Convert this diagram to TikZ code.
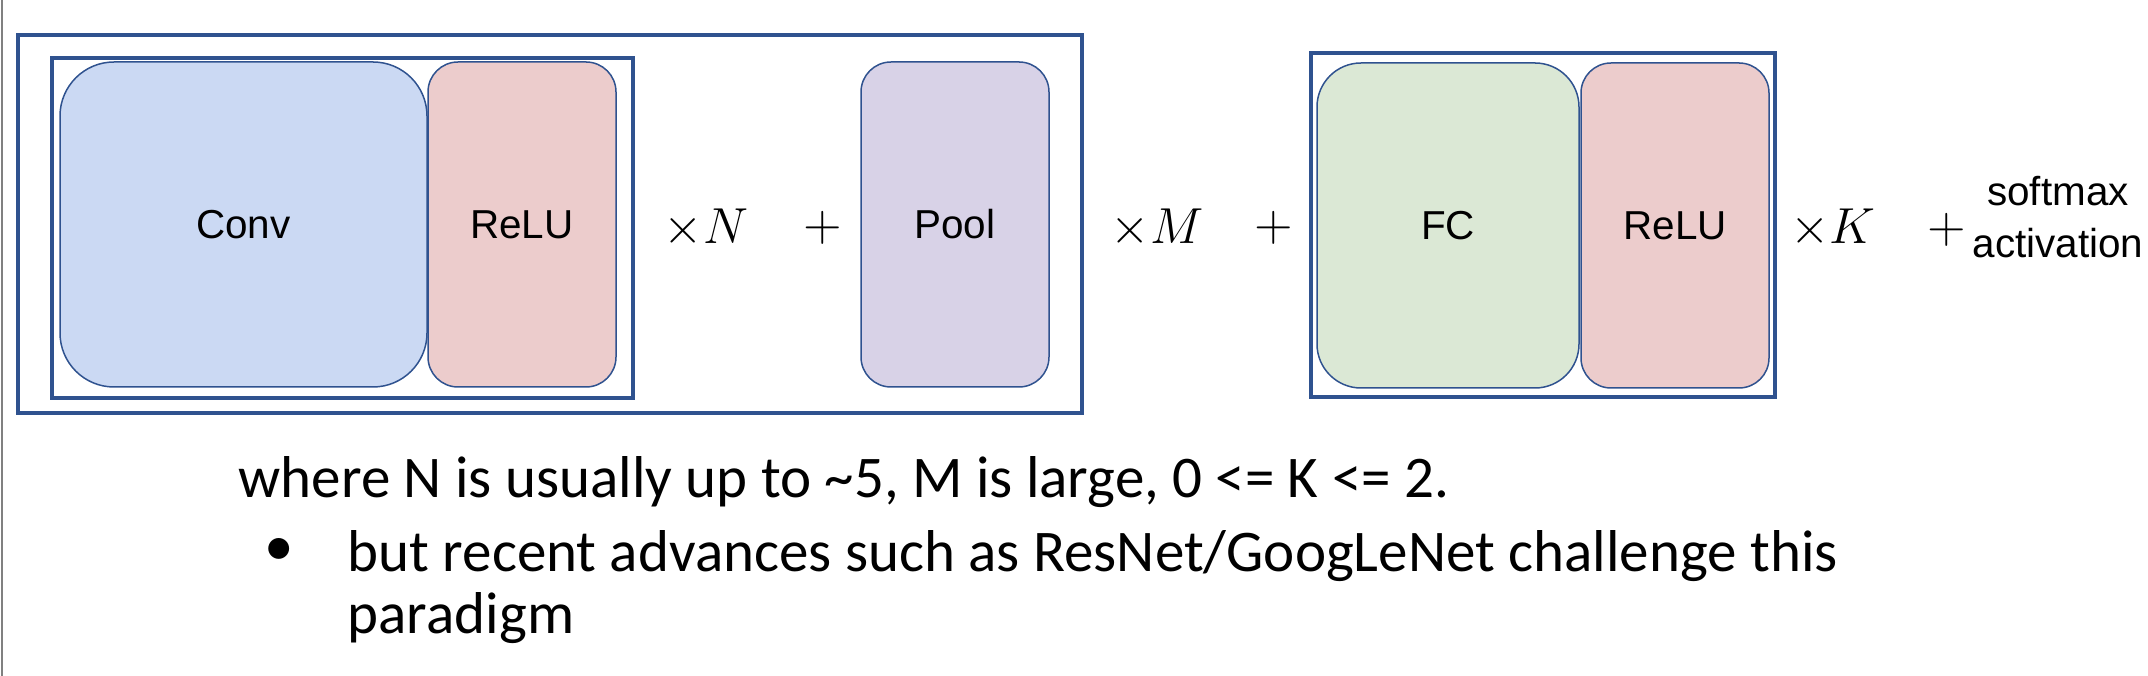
\documentclass[tikz,border=0pt]{standalone}
\usepackage{fontspec}
\setmainfont{Carlito}
\newfontfamily\labelfont{Liberation Sans}
\usepackage{tikz}
\usetikzlibrary{positioning}
\definecolor{boxblue}{RGB}{47,82,143}
\definecolor{convfill}{RGB}{203,217,243}
\definecolor{relufill}{RGB}{236,204,204}
\definecolor{poolfill}{RGB}{216,210,231}
\definecolor{fcfill}{RGB}{219,232,213}

\begin{document}
\begin{tikzpicture}
[x=0.1mm, y=-0.1mm, node distance=0.1mm,
% STYLES
% The layer style is used to draw the rounded blocks of the network
layer/.style={rectangle, draw=boxblue, line width=0.15mm, inner sep=0pt, outer sep=0pt, minimum height=32.5mm, rounded corners=3mm, font=\labelfont\fontsize{11.5}{15}\selectfont},
% The frame style is used to draw the boxes around repeated groups
frame/.style={draw=boxblue, line width=0.4mm},
% The op style is used for the multiplicities and the plus signs
op/.style={inner sep=0pt, font=\fontsize{15.5}{18}\selectfont},
% The note style is used for the text below the diagram
note/.style={inner sep=0pt, font=\fontsize{16.8}{20}\selectfont}]

\useasboundingbox (0,0) rectangle (2148,676);
\draw[gray, line width=0.2mm] (2,0) -- (2,676);

% Draw layers
\node [layer, fill=convfill, minimum width=36.7mm, rounded corners=5.4mm] (conv) at (243.5,224.5) {Conv};
\node [layer, fill=relufill, minimum width=18.8mm, right=of conv] (relu1) {ReLU};
\node [layer, fill=poolfill, minimum width=18.8mm] (pool) at (955,224.5) {Pool};
\node [layer, fill=fcfill, minimum width=26.2mm, rounded corners=4.4mm] (fc) at (1448,225.5) {FC};
\node [layer, fill=relufill, minimum width=18.8mm, right=0.2mm of fc] (relu2) {ReLU};

% Draw frames
\draw [frame] (52,58) rectangle (633,398);
\draw [frame] (18,35) rectangle (1082,413);
\draw [frame] (1311,53) rectangle (1775,397);

% multiplicities
\node [op] (timesN) at (706,228) {$\times N$};
\node [op] (plus1) at (823,228) {$+$};
\node [op] (timesM) at (1157,228) {$\times M$};
\node [op] (plus2) at (1274,228) {$+$};
\node [op] (timesK) at (1833,228) {$\times K$};
\node [op] (plus3) at (1947,230) {$+$};
\node [layer, draw=none, minimum height=0pt, align=center, anchor=base] (softmax) at (2058,258) {softmax\\activation};

%%%%%%%%%%%%%%%
% text below
\node [note, anchor=base west] (where) at (238,498) {where N is usually up to \textasciitilde5, M is large, 0 <= K <= 2.};
\node [note] (bullet) at (279,552) {\textbullet};
\node [note, anchor=base west] (but) at (347,572) {but recent advances such as ResNet/GoogLeNet challenge this};
\node [note, anchor=base west] (paradigm) at (347,634) {paradigm};

\end{tikzpicture}
\end{document}
